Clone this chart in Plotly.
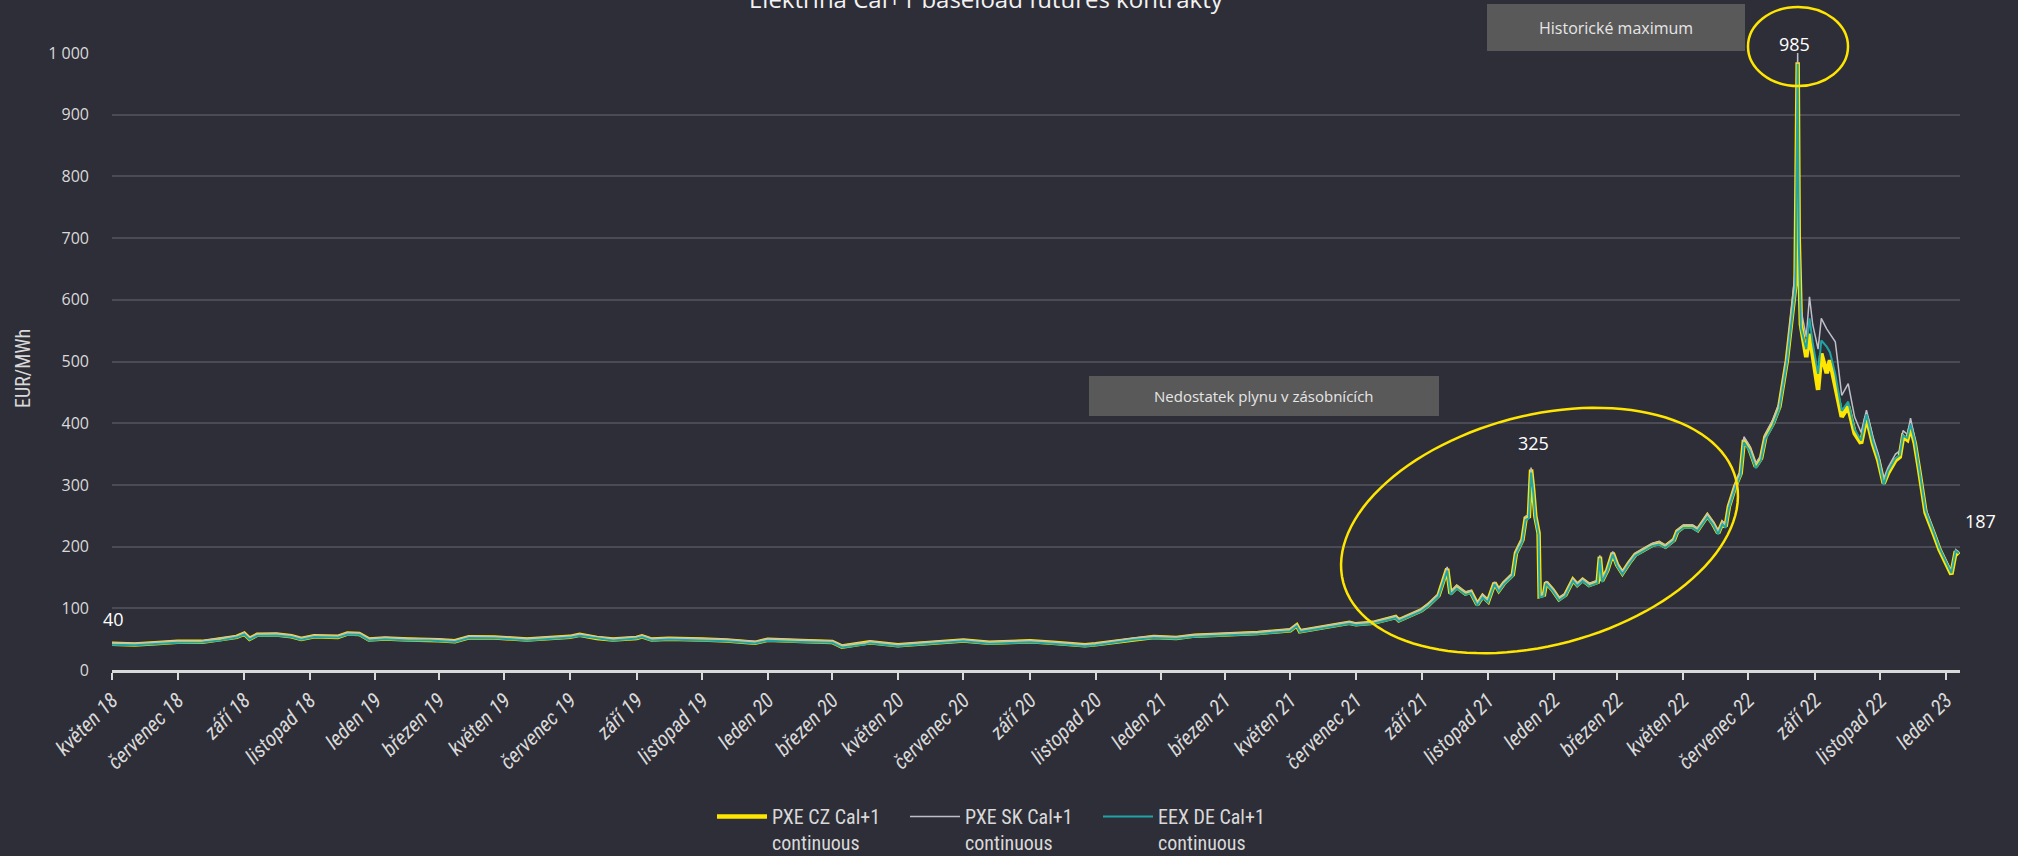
import numpy as np
import plotly.graph_objects as go

# ---------------- data ----------------
dates = [
    "2018-05-01", "2018-05-22", "2018-06-10", "2018-07-01", "2018-07-24", "2018-08-10", "2018-08-25",
    "2018-09-01", "2018-09-06", "2018-09-13", "2018-10-01", "2018-10-15", "2018-10-24", "2018-11-05",
    "2018-11-27", "2018-12-06", "2018-12-17", "2018-12-26", "2019-01-10", "2019-02-01", "2019-02-20",
    "2019-03-01", "2019-03-16", "2019-03-29", "2019-04-22", "2019-05-22", "2019-07-01", "2019-07-10",
    "2019-07-26", "2019-08-10", "2019-09-01", "2019-09-06", "2019-09-15", "2019-10-01", "2019-11-01",
    "2019-11-24", "2019-12-20", "2020-01-01", "2020-02-01", "2020-03-01", "2020-03-10", "2020-03-20",
    "2020-04-01", "2020-04-05", "2020-05-01", "2020-05-22", "2020-07-01", "2020-07-25", "2020-09-01",
    "2020-09-22", "2020-10-22", "2020-11-01", "2020-12-07", "2020-12-25", "2021-01-15", "2021-02-01",
    "2021-03-01", "2021-04-01", "2021-05-01", "2021-05-07", "2021-05-10", "2021-05-28", "2021-06-25",
    "2021-07-01", "2021-07-17", "2021-08-07", "2021-08-10", "2021-08-31", "2021-09-07", "2021-09-16",
    "2021-09-24", "2021-09-27", "2021-10-03", "2021-10-11", "2021-10-16", "2021-10-22", "2021-10-27",
    "2021-11-01", "2021-11-07", "2021-11-11", "2021-11-16", "2021-11-24", "2021-11-27", "2021-12-03",
    "2021-12-06", "2021-12-09", "2021-12-11", "2021-12-13", "2021-12-15", "2021-12-18", "2021-12-19",
    "2021-12-23", "2021-12-25", "2021-12-31", "2022-01-06", "2022-01-12", "2022-01-19", "2022-01-23",
    "2022-01-28", "2022-02-03", "2022-02-11", "2022-02-13", "2022-02-15", "2022-02-20", "2022-02-25",
    "2022-03-01", "2022-03-06", "2022-03-12", "2022-03-18", "2022-03-26", "2022-04-03", "2022-04-09",
    "2022-04-15", "2022-04-23", "2022-04-26", "2022-05-02", "2022-05-10", "2022-05-15", "2022-05-24",
    "2022-05-29", "2022-06-03", "2022-06-07", "2022-06-10", "2022-06-13", "2022-06-19", "2022-06-24",
    "2022-06-27", "2022-07-02", "2022-07-08", "2022-07-13", "2022-07-17", "2022-07-24", "2022-07-30",
    "2022-08-06", "2022-08-11", "2022-08-14", "2022-08-16", "2022-08-17", "2022-08-19", "2022-08-24",
    "2022-08-27", "2022-08-30", "2022-09-04", "2022-09-07", "2022-09-12", "2022-09-15", "2022-09-20",
    "2022-09-26", "2022-10-02", "2022-10-08", "2022-10-14", "2022-10-19", "2022-10-25", "2022-10-30",
    "2022-11-04", "2022-11-08", "2022-11-15", "2022-11-19", "2022-11-22", "2022-11-26", "2022-11-29",
    "2022-12-03", "2022-12-07", "2022-12-13", "2022-12-21", "2022-12-26", "2023-01-06", "2023-01-10",
    "2023-01-13",
]

pxe_cz = [
    42.5, 41.3, 43.5, 45.6, 45.6, 49.4, 53.7,
    59.0, 50.5, 57.0, 57.4, 54.7, 50.5, 54.7,
    53.7, 59.0, 58.5, 49.4, 51.0, 49.4, 49.4,
    48.4, 46.7, 53.1, 52.6, 49.4, 53.7, 57.0,
    52.0, 49.4, 52.0, 54.7, 49.4, 50.5, 49.4,
    47.8, 44.0, 49.0, 47.0, 45.5, 38.0, 40.0,
    43.0, 45.0, 40.0, 43.0, 47.8, 44.0, 46.5,
    44.0, 40.0, 41.6, 50.4, 53.6, 52.0, 55.7,
    57.4, 60.0, 64.5, 72.5, 62.8, 68.0, 76.4,
    74.0, 76.4, 85.8, 80.6, 96.8, 106.0, 121.0,
    164.0, 124.0, 134.6, 124.0, 126.5, 106.0, 119.6,
    111.5, 141.0, 129.0, 141.0, 154.6, 189.6, 211.0,
    246.0, 249.0, 325.0, 292.0, 249.0, 222.0, 120.0,
    122.0, 142.0, 130.0, 114.8, 122.0, 146.0, 138.0,
    146.0, 138.0, 143.0, 183.5, 144.6, 162.0, 189.6,
    170.7, 157.0, 173.0, 187.0, 195.0, 203.0, 205.8,
    200.0, 211.0, 224.6, 232.6, 232.6, 227.0, 250.0,
    238.0, 222.0, 238.0, 232.6, 265.0, 298.0, 319.0,
    373.0, 359.6, 330.0, 343.5, 378.0, 400.0, 427.0,
    502.0, 578.0, 626.0, 985.0, 700.0, 560.0, 507.0,
    545.0, 513.0, 454.0, 513.0, 481.0, 502.0, 459.0,
    410.5, 427.0, 383.6, 367.3, 410.5, 367.0, 340.0,
    302.6, 319.0, 340.0, 345.7, 378.0, 373.0, 394.0,
    367.0, 324.0, 255.0, 219.0, 195.0, 155.0, 192.0,
    187.0,
]

pxe_sk = [
    44.0, 43.0, 45.0, 47.0, 47.5, 51.0, 55.0,
    60.5, 52.0, 58.5, 59.0, 56.0, 52.0, 56.0,
    55.0, 60.5, 60.0, 51.0, 52.5, 51.0, 50.5,
    50.0, 48.0, 54.5, 54.0, 51.0, 55.0, 58.5,
    53.5, 51.0, 53.5, 56.0, 51.0, 52.0, 51.0,
    49.5, 46.0, 50.5, 48.5, 47.0, 40.0, 41.5,
    44.5, 46.5, 41.5, 44.5, 49.0, 45.5, 48.0,
    45.5, 41.5, 43.0, 52.0, 55.0, 53.5, 57.0,
    59.0, 61.5, 66.0, 74.0, 64.5, 69.5, 78.0,
    75.5, 78.0, 87.5, 82.0, 98.5, 108.0, 123.0,
    167.0, 126.0, 137.0, 126.0, 128.5, 108.0, 122.0,
    113.5, 143.0, 131.0, 143.0, 157.0, 192.0, 214.0,
    249.0, 252.0, 328.0, 296.0, 252.0, 225.0, 122.0,
    124.0, 144.0, 132.0, 117.0, 124.0, 148.0, 140.0,
    148.0, 140.0, 145.0, 186.0, 147.0, 164.0, 192.0,
    173.0, 159.0, 175.0, 189.0, 197.0, 205.0, 208.0,
    202.0, 213.0, 227.0, 235.0, 235.0, 229.0, 253.0,
    241.0, 225.0, 241.0, 235.0, 268.0, 302.0, 323.0,
    378.0, 364.0, 335.0, 348.0, 383.0, 406.0, 433.0,
    510.0, 595.0, 653.0, 1000.0, 720.0, 585.0, 540.0,
    605.0, 560.0, 520.0, 570.0, 553.0, 545.0, 532.0,
    445.0, 464.0, 410.0, 385.0, 421.0, 378.0, 350.0,
    310.0, 328.0, 350.0, 355.0, 388.0, 382.0, 408.0,
    375.0, 330.0, 262.0, 224.0, 199.0, 160.0, 195.0,
    191.0,
]

eex_de = [
    41.0, 40.0, 42.0, 44.0, 44.5, 48.0, 52.5,
    57.5, 49.5, 55.5, 56.0, 53.5, 49.0, 53.5,
    52.5, 57.5, 57.0, 48.0, 50.0, 48.0, 48.0,
    47.0, 45.5, 52.0, 51.5, 48.0, 52.5, 55.5,
    51.0, 48.0, 51.0, 53.5, 48.0, 49.5, 48.0,
    46.5, 43.0, 47.5, 45.5, 44.0, 36.5, 38.5,
    41.5, 43.5, 38.5, 41.5, 46.5, 42.5, 45.0,
    42.5, 38.5, 40.0, 49.0, 52.0, 50.5, 54.0,
    56.0, 58.5, 63.0, 71.0, 61.5, 66.5, 75.0,
    72.5, 75.0, 84.0, 79.0, 95.0, 104.0, 119.0,
    161.0, 122.0, 132.0, 122.0, 124.5, 104.0, 117.5,
    109.5, 139.0, 127.0, 139.0, 152.5, 187.0, 208.0,
    243.0, 246.0, 320.0, 288.0, 246.0, 219.0, 118.0,
    120.0, 140.0, 128.0, 113.0, 120.0, 144.0, 136.0,
    144.0, 136.0, 141.0, 181.0, 142.5, 160.0, 187.0,
    168.5, 155.0, 171.0, 185.0, 193.0, 201.0, 203.5,
    198.0, 209.0, 222.5, 230.5, 230.5, 225.0, 247.5,
    236.0, 220.0, 236.0, 230.5, 262.0, 295.0, 316.0,
    369.0, 356.0, 327.0, 340.0, 374.0, 396.0, 423.0,
    498.0, 572.0, 620.0, 982.0, 695.0, 555.0, 520.0,
    570.0, 530.0, 480.0, 534.0, 524.0, 515.0, 480.0,
    420.0, 435.0, 390.0, 372.0, 414.0, 370.0, 343.0,
    300.0, 322.0, 343.0, 348.0, 380.0, 376.0, 398.0,
    370.0, 326.0, 258.0, 221.0, 197.0, 157.0, 193.0,
    189.0,
]

series_names = ["PXE CZ Cal+1<br>continuous", "PXE SK Cal+1<br>continuous", "EEX DE Cal+1<br>continuous"]

tick_dates = [
    "2018-05-01", "2018-07-01", "2018-09-01", "2018-11-01",
    "2019-01-01", "2019-03-01", "2019-05-01", "2019-07-01", "2019-09-01", "2019-11-01",
    "2020-01-01", "2020-03-01", "2020-05-01", "2020-07-01", "2020-09-01", "2020-11-01",
    "2021-01-01", "2021-03-01", "2021-05-01", "2021-07-01", "2021-09-01", "2021-11-01",
    "2022-01-01", "2022-03-01", "2022-05-01", "2022-07-01", "2022-09-01", "2022-11-01",
    "2023-01-01",
]
tick_labels = [
    "květen 18", "červenec 18", "září 18", "listopad 18",
    "leden 19", "březen 19", "květen 19", "červenec 19", "září 19", "listopad 19",
    "leden 20", "březen 20", "květen 20", "červenec 20", "září 20", "listopad 20",
    "leden 21", "březen 21", "květen 21", "červenec 21", "září 21", "listopad 21",
    "leden 22", "březen 22", "květen 22", "červenec 22", "září 22", "listopad 22",
    "leden 23",
]
y_tick_values = [0, 100, 200, 300, 400, 500, 600, 700, 800, 900, 1000]
y_tick_labels = ["0", "100", "200", "300", "400", "500", "600", "700", "800", "900", "1 000"]

title_text = "Elektřina Cal+1 baseload futures kontrakty"

# ---------------- layout helpers ----------------
W, H = 2018, 856
ML, MR, MT, MB = 112, 58, 53, 186
PW = W - ML - MR
PH = H - MT - MB


def px(x):
    return (x - ML) / PW


def py(y):
    return (H - MB - y) / PH


BG = "#2e2e38"
TXT = "#d9d9d9"
YEL = "#ffe600"
GRID = "#4b4b55"
BOX = "#595959"
NARROW = "Liberation Sans Narrow, Arial Narrow, Roboto Condensed, sans-serif"
SANS = "Open Sans, Noto Sans, sans-serif"

fig = go.Figure()
fig.add_trace(go.Scatter(x=dates, y=pxe_cz, name=series_names[0], mode="lines",
                         line=dict(color=YEL, width=4.5)))
fig.add_trace(go.Scatter(x=dates, y=pxe_sk, name=series_names[1], mode="lines",
                         line=dict(color="#bfbfc8", width=1.5)))
fig.add_trace(go.Scatter(x=dates, y=eex_de, name=series_names[2], mode="lines",
                         line=dict(color="#1fa3a3", width=2)))

# tilted ellipse (Dec 2021 gas shortage)
cx, cy, a, b, th = 1539.5, 530.5, 203.0, 115.0, np.deg2rad(-14.8)
t = np.linspace(0, 2 * np.pi, 121)
ex = cx + a * np.cos(t) * np.cos(th) - b * np.sin(t) * np.sin(th)
ey = cy + a * np.cos(t) * np.sin(th) + b * np.sin(t) * np.cos(th)
path = "M " + " L ".join(f"{px(xx):.5f},{py(yy):.5f}" for xx, yy in zip(ex, ey)) + " Z"

shapes = [
    dict(type="path", path=path, xref="paper", yref="paper", line=dict(color=YEL, width=2.5)),
    dict(type="circle", xref="paper", yref="paper", x0=px(1748), x1=px(1848), y0=py(86), y1=py(7),
         line=dict(color=YEL, width=2.5)),
    dict(type="rect", xref="paper", yref="paper", x0=px(1487), x1=px(1745), y0=py(51), y1=py(4),
         fillcolor=BOX, line=dict(width=0), layer="below"),
    dict(type="rect", xref="paper", yref="paper", x0=px(1089), x1=px(1439), y0=py(416), y1=py(376),
         fillcolor=BOX, line=dict(width=0), layer="below"),
]


def ann(text, x, y, size, color="#ffffff", family=SANS, **kw):
    return dict(text=text, x=px(x), y=py(y), xref="paper", yref="paper", showarrow=False,
                font=dict(size=size, color=color, family=family), xanchor="center", yanchor="middle", **kw)


annotations = [
    ann(title_text, 986, -1, 24, "#f2f2f2"),
    ann("Historické maximum", 1616, 27.5, 16, "#e6e6e6"),
    ann("Nedostatek plynu v zásobnících", 1264, 396, 15, "#e6e6e6"),
    ann("985", 1794, 44, 18),
    ann("325", 1533, 443, 18),
    ann("187", 1980, 521, 18),
    ann("40", 113, 619, 18),
    ann("EUR/MWh", 23, 369, 20, TXT, family=NARROW, textangle=-90),
]

fig.update_layout(
    width=W, height=H,
    paper_bgcolor=BG, plot_bgcolor=BG,
    margin=dict(l=ML, r=MR, t=MT, b=MB, autoexpand=False),
    showlegend=True,
    legend=dict(orientation="h", x=px(712), xanchor="left", y=py(797), yanchor="top",
                font=dict(size=20, color=TXT, family=NARROW), itemwidth=50,
                entrywidth=128, entrywidthmode="pixels", valign="top",
                bgcolor="rgba(0,0,0,0)", traceorder="normal"),
    shapes=shapes,
    annotations=annotations,
    xaxis=dict(type="date", range=["2018-05-01", "2023-01-14"],
               tickvals=tick_dates, ticktext=tick_labels, tickangle=-45,
               tickfont=dict(size=21, color=TXT, family=NARROW, style="italic"),
               showgrid=False, showline=True, linecolor="#d9d9d9", linewidth=2.5,
               ticks="outside", ticklen=7, tickwidth=1.5, tickcolor="#d9d9d9", zeroline=False),
    yaxis=dict(range=[0, 1000], tickvals=y_tick_values, ticktext=y_tick_labels,
               tickfont=dict(size=16, color=TXT, family=SANS),
               showgrid=True, gridcolor=GRID, gridwidth=1.5, zeroline=False,
               showline=False, ticks="", ticklabelstandoff=22),
    hovermode=False,
)

fig.write_html(
    "out.html",
    config={"displayModeBar": False},
    post_script="document.body.style.margin='0';document.body.style.background='#2e2e38';"
                "document.documentElement.style.background='#2e2e38';",
)
